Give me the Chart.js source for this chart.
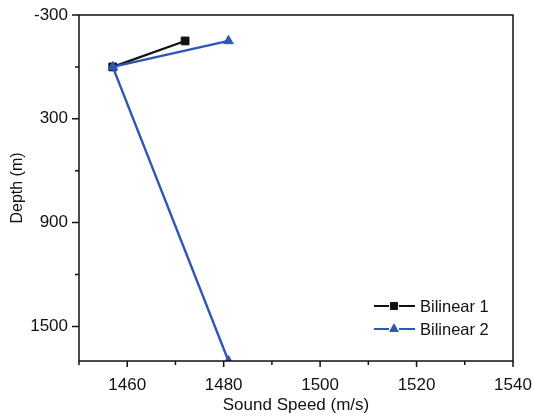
<!DOCTYPE html>
<html>
<head>
<meta charset="utf-8">
<script src="https://cdn.jsdelivr.net/npm/chart.js@4/dist/chart.umd.min.js"></script>
<style>
    html, body { margin: 0; padding: 0; background: #fff; }
    #box { width: 533px; height: 417px; }
</style>
</head>
<body>
<div id="box"><canvas id="grafico"></canvas></div>
<script>
// dados
const serieNomes = ['Bilinear 1', 'Bilinear 2'];
const velocidade1 = [1472, 1457];
const profundidade1 = [-150, 0];
const velocidade2 = [1481, 1457, 1481];
const profundidade2 = [-150, 0, 1700];

const xMin = 1450, xMax = 1540;
const yMin = -300, yMax = 1700;
const xTicksMaiores = [1460, 1480, 1500, 1520, 1540];
const xTicksMenores = [1450, 1470, 1490, 1510, 1530];
const yTicksMaiores = [-300, 300, 900, 1500];
const yTicksMenores = [0, 600, 1200];

const corPreta = '#111111';
const corAzul = '#2f56b3';
const fonte = '"Liberation Sans", Arial, sans-serif';

const montarPontos = (xs, ys) => xs.map((x, i) => ({ x: x, y: ys[i] }));

// desenha ticks (maiores e menores) e a moldura
const eixosPlugin = {
    id: 'eixos',
    afterDraw(chart) {
        const ctx = chart.ctx;
        const area = chart.chartArea;
        const sx = chart.scales.x;
        const sy = chart.scales.y;
        ctx.save();
        ctx.strokeStyle = '#111';
        ctx.lineWidth = 1.5;
        ctx.strokeRect(area.left, area.top, area.right - area.left, area.bottom - area.top);

        ctx.beginPath();
        xTicksMaiores.forEach(v => {
            const px = sx.getPixelForValue(v);
            ctx.moveTo(px, area.bottom); ctx.lineTo(px, area.bottom + 6);
        });
        xTicksMenores.forEach(v => {
            const px = sx.getPixelForValue(v);
            ctx.moveTo(px, area.bottom); ctx.lineTo(px, area.bottom + 4);
        });
        yTicksMaiores.forEach(v => {
            const py = sy.getPixelForValue(v);
            ctx.moveTo(area.left, py); ctx.lineTo(area.left - 7, py);
        });
        yTicksMenores.forEach(v => {
            const py = sy.getPixelForValue(v);
            ctx.moveTo(area.left, py); ctx.lineTo(area.left - 4, py);
        });
        ctx.stroke();
        ctx.restore();
    }
};

// legenda dentro da area do grafico, canto inferior direito
const legendaPlugin = {
    id: 'legendaInterna',
    afterDraw(chart) {
        const ctx = chart.ctx;
        const area = chart.chartArea;
        const x0 = area.right - 139;
        const linhas = [area.bottom - 55, area.bottom - 32];
        ctx.save();
        chart.data.datasets.forEach((ds, i) => {
            const y = linhas[i];
            ctx.strokeStyle = ds.borderColor;
            ctx.fillStyle = ds.backgroundColor;
            ctx.lineWidth = 2;
            ctx.beginPath();
            ctx.moveTo(x0, y); ctx.lineTo(x0 + 15, y);
            ctx.moveTo(x0 + 25, y); ctx.lineTo(x0 + 41, y);
            ctx.stroke();
            ctx.lineWidth = 1;
            Chart.helpers.drawPoint(ctx, {
                pointStyle: ds.pointStyle,
                radius: 5,
                borderWidth: 1
            }, x0 + 20, y);
            ctx.fillStyle = '#111';
            ctx.font = '16.5px ' + fonte;
            ctx.textBaseline = 'middle';
            ctx.textAlign = 'left';
            ctx.fillText(ds.label, x0 + 46, y + 1);
        });
        ctx.restore();
    }
};

window.onload = () => {
    const ctx = document.getElementById('grafico').getContext('2d');
    new Chart(ctx, {
        type: 'scatter',
        data: {
            datasets: [{
                label: serieNomes[0],
                data: montarPontos(velocidade1, profundidade1),
                showLine: true,
                borderColor: corPreta,
                backgroundColor: corPreta,
                borderWidth: 2.2,
                pointStyle: 'rect',
                pointRadius: 5.5,
                pointBorderWidth: 1,
                order: 2
            }, {
                label: serieNomes[1],
                data: montarPontos(velocidade2, profundidade2),
                showLine: true,
                borderColor: corAzul,
                backgroundColor: corAzul,
                borderWidth: 2.4,
                pointStyle: 'triangle',
                pointRadius: 5.5,
                pointBorderWidth: 1,
                order: 1
            }]
        },
        options: {
            responsive: true,
            maintainAspectRatio: false,
            animation: false,
            devicePixelRatio: 1,
            layout: { padding: { top: 15, right: 20, left: 0, bottom: 0 } },
            plugins: {
                legend: { display: false },
                tooltip: { enabled: false }
            },
            scales: {
                x: {
                    type: 'linear',
                    min: xMin,
                    max: xMax,
                    afterBuildTicks: (scale) => {
                        scale.ticks = xTicksMaiores.map(v => ({ value: v }));
                    },
                    afterFit: (scale) => {
                        scale.height = 56;
                        scale.paddingLeft = 0;
                        scale.paddingRight = 0;
                    },
                    grid: { display: false },
                    border: { display: false },
                    ticks: {
                        color: '#111',
                        font: { family: fonte, size: 17 },
                        padding: 6,
                        maxRotation: 0,
                        callback: (v) => String(v)
                    },
                    title: {
                        display: true,
                        text: 'Sound Speed (m/s)',
                        color: '#111',
                        font: { family: fonte, size: 17 },
                        padding: { top: 0, bottom: 1 }
                    }
                },
                y: {
                    type: 'linear',
                    reverse: true,
                    min: yMin,
                    max: yMax,
                    afterBuildTicks: (scale) => {
                        scale.ticks = yTicksMaiores.map(v => ({ value: v }));
                    },
                    afterFit: (scale) => {
                        scale.width = 79;
                        scale.paddingTop = 0;
                        scale.paddingBottom = 0;
                    },
                    grid: { display: false },
                    border: { display: false },
                    ticks: {
                        color: '#111',
                        font: { family: fonte, size: 17 },
                        padding: 3,
                        callback: (v) => String(v)
                    },
                    title: {
                        display: true,
                        text: 'Depth (m)',
                        color: '#111',
                        font: { family: fonte, size: 16 },
                        padding: { top: 8, bottom: 0 }
                    }
                }
            }
        },
        plugins: [eixosPlugin, legendaPlugin]
    });
};
</script>
</body>
</html>
